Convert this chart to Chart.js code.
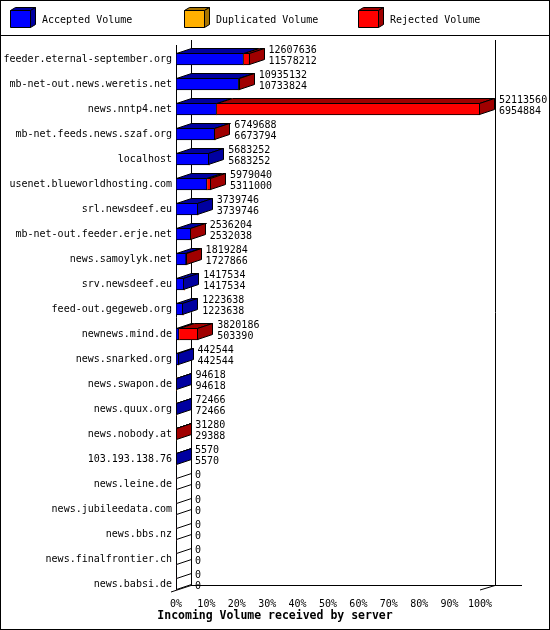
<!DOCTYPE html>
<html lang="en">
<head>
<meta charset="UTF-8">
<title>Incoming Volume received by server</title>
<script src="https://cdn.jsdelivr.net/npm/chart.js@4.4.1/dist/chart.umd.min.js"></script>
<style>
  body { margin: 0; background: #fff; }
</style>
</head>
<body>
<canvas id="myChart" width="550" height="630"></canvas>
<script>
var servers = [
  'feeder.eternal-september.org', 'mb-net-out.news.weretis.net', 'news.nntp4.net',
  'mb-net.feeds.news.szaf.org', 'localhost', 'usenet.blueworldhosting.com',
  'srl.newsdeef.eu', 'mb-net-out.feeder.erje.net', 'news.samoylyk.net',
  'srv.newsdeef.eu', 'feed-out.gegeweb.org', 'newnews.mind.de',
  'news.snarked.org', 'news.swapon.de', 'news.quux.org', 'news.nobody.at',
  '103.193.138.76', 'news.leine.de', 'news.jubileedata.com', 'news.bbs.nz',
  'news.finalfrontier.ch', 'news.babsi.de'
];
var totalVolume = [12607636, 10935132, 52113560, 6749688, 5683252, 5979040, 3739746, 2536204,
  1819284, 1417534, 1223638, 3820186, 442544, 94618, 72466, 31280, 5570, 0, 0, 0, 0, 0];
var acceptedVolume = [11578212, 10733824, 6954884, 6673794, 5683252, 5311000, 3739746, 2532038,
  1727866, 1417534, 1223638, 503390, 442544, 94618, 72466, 29388, 5570, 0, 0, 0, 0, 0];
var duplicatedVolume = [0, 0, 0, 0, 0, 0, 0, 0, 0, 0, 0, 0, 0, 0, 0, 0, 0, 0, 0, 0, 0, 0];
var seriesNames = ['Accepted Volume', 'Duplicated Volume', 'Rejected Volume'];
var axisTitle = 'Incoming Volume received by server';

var frontColors = ['#0000ff', '#ffb000', '#ff0000'];
var darkColors = ['#0000a0', '#a87400', '#a00000'];

var maxVolume = Math.max.apply(null, totalVolume);
function pct(v) { return v / maxVolume * 100; }
var rejectedVolume = totalVolume.map(function (t, i) { return t - acceptedVolume[i] - duplicatedVolume[i]; });

var DX = 15, DY = 5, BAR = 12;

Chart.defaults.font.family = '"DejaVu Sans Mono", monospace';
Chart.defaults.font.size = 10;
Chart.defaults.color = '#000';

function h(v) { return Math.round(v) + 0.5; }

function line(c, x1, y1, x2, y2) {
  c.beginPath(); c.moveTo(x1, y1); c.lineTo(x2, y2); c.stroke();
}

function poly(c, pts, fill) {
  c.beginPath();
  c.moveTo(pts[0][0], pts[0][1]);
  for (var i = 1; i < pts.length; i++) c.lineTo(pts[i][0], pts[i][1]);
  c.closePath();
  if (fill) { c.fillStyle = fill; c.fill(); }
  c.stroke();
}

// fake 3d: walls behind, top/side faces on the bars, legend cubes
var bars3d = {
  id: 'bars3d',
  beforeDraw: function (chart) {
    var c = chart.ctx, a = chart.chartArea, xs = chart.scales.x, ys = chart.scales.y;
    var x0 = xs.getPixelForValue(0), x1 = xs.getPixelForValue(100);
    var floor = ys.getPixelForValue(servers.length - 1) + BAR / 2;
    c.save();
    c.fillStyle = '#fff';
    c.fillRect(0, 0, chart.width, chart.height);
    c.strokeStyle = '#000';
    c.lineWidth = 1;
    c.strokeRect(0.5, 0.5, chart.width - 1, chart.height - 1);
    line(c, 0, 35.5, chart.width, 35.5);
    line(c, h(x0), a.top - 1.5, h(x0), floor);
    line(c, h(x0 + DX), a.top - 6.5, h(x0 + DX), floor - DY);
    line(c, h(x1 + DX), a.top - 6.5, h(x1 + DX), floor - DY);
    line(c, x0 + DX, h(floor - DY), x1 + DX + 27, h(floor - DY));
    line(c, x0 - 5, floor + 2, x0 + DX, floor - DY + 0.5);
    line(c, x1, floor, x1 + DX, floor - DY + 0.5);
    c.restore();
  },
  afterDatasetsDraw: function (chart) {
    var c = chart.ctx, xs = chart.scales.x, ys = chart.scales.y;
    var x0 = xs.getPixelForValue(0);
    c.save();
    c.strokeStyle = '#000';
    c.lineWidth = 1;
    for (var i = 0; i < servers.length; i++) {
      var yc = ys.getPixelForValue(i);
      var ty = Math.round(yc - BAR / 2) + 0.5, by = Math.round(yc + BAR / 2) - 0.5;
      var last = -1, lastEl = null;
      chart.data.datasets.forEach(function (ds, d) {
        if (!(ds.data[i] > 0)) return;
        var el = chart.getDatasetMeta(d).data[i];
        var bx = Math.round(el.base) + 0.5, ex = Math.round(el.x) - 0.5;
        if (ex < bx) ex = bx;
        poly(c, [[bx, ty], [ex, ty], [ex + DX, ty - DY], [bx + DX, ty - DY]], darkColors[d]);
        last = d; lastEl = el;
      });
      var sx;
      if (last >= 0) {
        sx = Math.max(Math.round(lastEl.x) - 0.5, h(x0));
        poly(c, [[sx, ty], [sx + DX, ty - DY], [sx + DX, by - DY], [sx, by]], darkColors[last]);
      } else {
        sx = h(x0);
        poly(c, [[sx, ty], [sx + DX, ty - DY], [sx + DX, by - DY], [sx, by]], null);
      }
      var tx = xs.getPixelForValue(pct(totalVolume[i])) + DX + 4;
      c.fillStyle = '#000';
      c.font = '10px "DejaVu Sans Mono", monospace';
      c.textAlign = 'left';
      c.textBaseline = 'middle';
      c.fillText(String(totalVolume[i]), tx, yc - 9);
      c.fillText(String(acceptedVolume[i]), tx, yc + 2);
    }
    c.restore();
  },
  afterDraw: function (chart) {
    var c = chart.ctx;
    c.save();
    c.strokeStyle = '#000';
    c.lineWidth = 1;
    chart.data.datasets.forEach(function (ds, d) {
      var cx = 10 + d * 174;
      poly(c, [[cx + 0.5, 10.5], [cx + 20.5, 10.5], [cx + 25.5, 7.5], [cx + 5.5, 7.5]], darkColors[d]);
      poly(c, [[cx + 20.5, 10.5], [cx + 25.5, 7.5], [cx + 25.5, 24.5], [cx + 20.5, 27.5]], darkColors[d]);
      poly(c, [[cx + 0.5, 10.5], [cx + 20.5, 10.5], [cx + 20.5, 27.5], [cx + 0.5, 27.5]], frontColors[d]);
      c.fillStyle = '#000';
      c.font = '10px "DejaVu Sans Mono", monospace';
      c.textAlign = 'left';
      c.textBaseline = 'middle';
      c.fillText(ds.label, cx + 32, 20);
    });
    c.restore();
  }
};

var ctx = document.getElementById('myChart').getContext('2d');
var chart = new Chart(ctx, {
  type: 'bar',
  plugins: [bars3d],
  data: {
    labels: servers,
    datasets: [
      { label: seriesNames[0], data: acceptedVolume.map(pct), backgroundColor: frontColors[0], borderSkipped: false },
      { label: seriesNames[1], data: duplicatedVolume.map(pct), backgroundColor: frontColors[1], borderSkipped: 'start' },
      { label: seriesNames[2], data: rejectedVolume.map(pct), backgroundColor: frontColors[2], borderSkipped: 'start' }
    ]
  },
  options: {
    indexAxis: 'y',
    responsive: false,
    animation: false,
    events: [],
    layout: { padding: { top: 46.5, right: 0, left: 0, bottom: 0 } },
    datasets: {
      bar: {
        barThickness: BAR,
        borderColor: '#000',
        borderWidth: function (c) { return c.raw > 0 ? 1 : 0; }
      }
    },
    scales: {
      x: {
        stacked: true,
        min: 0,
        max: 100,
        ticks: { stepSize: 10, padding: 2, maxRotation: 0, callback: function (v) { return v + '%'; } },
        grid: { display: false, drawTicks: false },
        border: { display: false },
        afterFit: function (s) { s.height = 12.7; }
      },
      y: {
        stacked: true,
        ticks: { padding: 4, autoSkip: false },
        grid: { display: false, drawTicks: false },
        border: { display: false },
        afterFit: function (s) { s.width = 176; }
      },
      // empty strip on the right for the value labels
      yRight: {
        type: 'category',
        position: 'right',
        ticks: { display: false },
        grid: { display: false, drawTicks: false },
        border: { display: false },
        afterFit: function (s) { s.width = 70; }
      }
    },
    plugins: {
      legend: { display: false },
      tooltip: { enabled: false },
      title: {
        display: true,
        position: 'bottom',
        text: axisTitle,
        color: '#000',
        font: { size: 11.5, weight: 'bold' },
        padding: { top: 0, bottom: 7 }
      }
    }
  }
});
</script>
</body>
</html>
